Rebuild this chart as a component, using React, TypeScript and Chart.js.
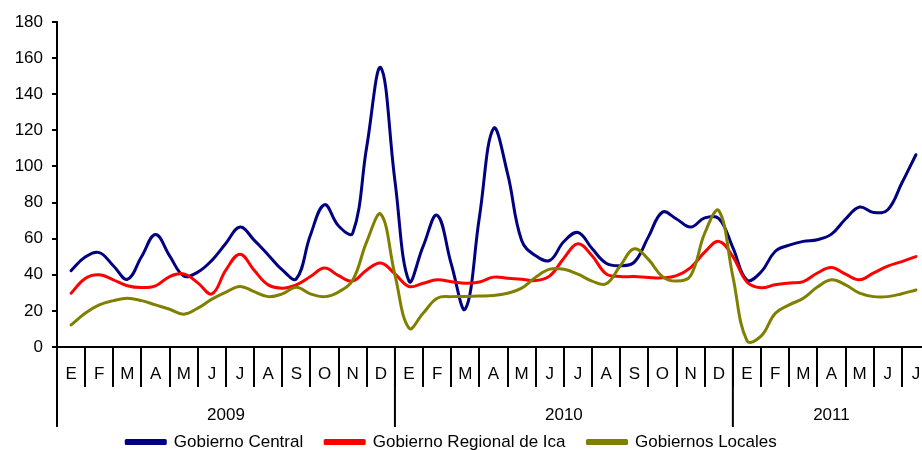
import React, { useEffect, useRef } from 'react';
import { Chart, registerables } from 'chart.js';

Chart.register(...registerables);

// Month tick labels (Spanish initials) and year groups
const months = ['E', 'F', 'M', 'A', 'M', 'J', 'J', 'A', 'S', 'O', 'N', 'D',
  'E', 'F', 'M', 'A', 'M', 'J', 'J', 'A', 'S', 'O', 'N', 'D',
  'E', 'F', 'M', 'A', 'M', 'J', 'J'];
const years = ['2009', '2010', '2011'];
const monthsPerYear = [12, 12, 7];

// Values every half month (first value = E 2009, last = J 2011)
const STEP = 0.5;
const seriesNames = ['Gobierno Central', 'Gobierno Regional de Ica', 'Gobiernos Locales'];
const central = [
  42.3, 49.8, 52.3, 45, 37.5, 50, 62.3, 50.5, 39.4, 41.5, 48, 57.5,
  66.4, 59.2, 51, 42.7, 37.8, 62, 78.8, 67, 63, 111, 154.7, 92,
  36.5, 55.7, 73, 46, 21, 72, 121, 96, 59, 50.5, 48, 58.4,
  63.4, 54.5, 46.4, 45, 47, 61, 74.7, 70.9, 66.4, 71.5, 71.2, 55,
  37, 41.5, 52.9, 56.4, 58.5, 59.4, 62.5, 70.9, 77.5, 74.5, 76, 90.8,
  106.5,
];
const regional = [
  29.8, 38, 40, 37.2, 33.9, 32.9, 33.9, 39, 40.5, 35.5, 29.4, 42.7,
  51.4, 42.5, 34.4, 32.6, 34.4, 39, 43.7, 39.5, 36.5, 42.7, 46.5, 40.5,
  33.5, 35.3, 37.2, 36.2, 35.3, 36, 38.7, 38.1, 37.5, 36.8, 39.4, 49.2,
  57.2, 50.5, 40.5, 39, 39, 38.5, 38.3, 39.5, 44, 52.5, 58.5, 50,
  36, 32.8, 34.5, 35.5, 36.2, 41, 44, 40.3, 37.2, 41, 44.8, 47.3,
  50.1,
];
const locales = [
  12.2, 18.7, 23.3, 25.7, 27, 25.7, 23.3, 20.9, 18.2, 21.5, 26.5, 30.4,
  33.5, 30.7, 27.9, 29.4, 33.1, 29.4, 27.9, 30.5, 37, 58.4, 73.5, 40,
  10.4, 18.7, 27, 27.9, 28, 28.2, 28.5, 29.8, 32.6, 38.7, 43.1, 43.1,
  40.3, 36.5, 35, 45, 54.4, 48.5, 39, 36.5, 39.5, 63, 75.5, 39,
  3.5, 6, 18.5, 23.3, 27, 33.2, 37.2, 34.4, 29.8, 27.9, 27.9, 29.5,
  31.6,
];
const Y_MIN = 0;
const Y_MAX = 180;
const Y_STEP = 20;

const FAMILY = "'Liberation Sans', Arial, sans-serif";
const FONT_SIZE = 17;
const LEGEND_SHIFT = -13.5;

const toPoints = (vals: number[]) => vals.map((v, i) => ({ x: i * STEP, y: v }));

const yearAxisPlugin = {
  id: 'yearAxis',
  afterDraw(chart: any) {
    const xs = chart.scales.x;
    const ctx = chart.ctx;
    const half = (xs.getPixelForValue(1) - xs.getPixelForValue(0)) / 2;
    ctx.save();
    ctx.strokeStyle = '#000';
    ctx.lineWidth = 2;
    ctx.fillStyle = '#000';
    ctx.font = `${FONT_SIZE}px ${FAMILY}`;
    ctx.textAlign = 'center';
    ctx.textBaseline = 'middle';
    let start = 0;
    let lastRight = 0;
    years.forEach((yr, k) => {
      const end = start + monthsPerYear[k] - 1;
      const left = xs.getPixelForValue(start) - half;
      const right = xs.getPixelForValue(end) + half;
      ctx.beginPath();
      ctx.moveTo(left, xs.top);
      ctx.lineTo(left, xs.top + 80);
      ctx.stroke();
      ctx.fillText(yr, (left + right) / 2, xs.top + 68);
      lastRight = right;
      start = end + 1;
    });
    ctx.beginPath();
    ctx.moveTo(lastRight, xs.top);
    ctx.lineTo(lastRight, xs.top + 80);
    ctx.stroke();
    ctx.restore();
  },
};

const legendShiftPlugin = {
  id: 'legendShift',
  afterLayout(chart: any) {
    const lg = chart.legend;
    if (lg) {
      lg.left += LEGEND_SHIFT;
      lg.right += LEGEND_SHIFT;
    }
  },
};

export default function App() {
  const ref = useRef<HTMLCanvasElement>(null);

  useEffect(() => {
    const font = { family: FAMILY, size: FONT_SIZE };
    const common = {
      xAxisID: 'xl',
      yAxisID: 'y',
      borderWidth: 3,
      pointRadius: 0,
      pointHoverRadius: 0,
      tension: 0.4,
      fill: false,
      borderJoinStyle: 'round' as const,
      borderCapStyle: 'round' as const,
    };
    const chart = new Chart(ref.current!, {
      type: 'line',
      data: {
        labels: months,
        datasets: [
          { ...common, label: seriesNames[0], data: toPoints(central), borderColor: '#000080', backgroundColor: '#000080', order: 2 },
          { ...common, label: seriesNames[1], data: toPoints(regional), borderColor: '#FF0000', backgroundColor: '#FF0000', order: 1 },
          { ...common, label: seriesNames[2], data: toPoints(locales), borderColor: '#808000', backgroundColor: '#808000', order: 0 },
        ],
      },
      options: {
        responsive: false,
        animation: false,
        devicePixelRatio: 1,
        layout: { padding: { top: 22, left: 0, right: 0, bottom: -10.5 } },
        plugins: {
          legend: {
            position: 'bottom',
            labels: {
              boxWidth: 39,
              boxHeight: 3,
              padding: 22,
              color: '#000',
              font,
              sort: (a: any, b: any) => a.datasetIndex - b.datasetIndex,
            },
          },
          tooltip: { enabled: false },
        },
        scales: {
          xl: { type: 'linear', display: false, min: -0.5, max: months.length - 0.5 },
          x: {
            type: 'category',
            position: 'bottom',
            offset: true,
            grid: { offset: true, drawOnChartArea: false, drawTicks: true, tickLength: 40, color: '#000', lineWidth: 2 },
            border: { display: true, color: '#000', width: 2 },
            ticks: { autoSkip: false, maxRotation: 0, minRotation: 0, padding: -23, color: '#000', font },
            afterFit: (s: any) => { s.height = 64.5; },
          },
          y: {
            min: Y_MIN,
            max: Y_MAX,
            ticks: { stepSize: Y_STEP, padding: 9, color: '#000', font },
            grid: { drawOnChartArea: false, drawTicks: true, tickLength: 5, color: '#000', lineWidth: 2 },
            border: { display: true, color: '#000', width: 2 },
            afterFit: (s: any) => { s.width = 57; },
          },
        },
      } as any,
      plugins: [yearAxisPlugin, legendShiftPlugin],
    });
    return () => chart.destroy();
  }, []);

  return (
    <div style={{ position: 'absolute', left: 0, top: 0, width: 922, height: 450, overflow: 'hidden', background: '#fff' }}>
      <canvas ref={ref} width={930} height={450} style={{ display: 'block', width: 930, height: 450 }} />
    </div>
  );
}
